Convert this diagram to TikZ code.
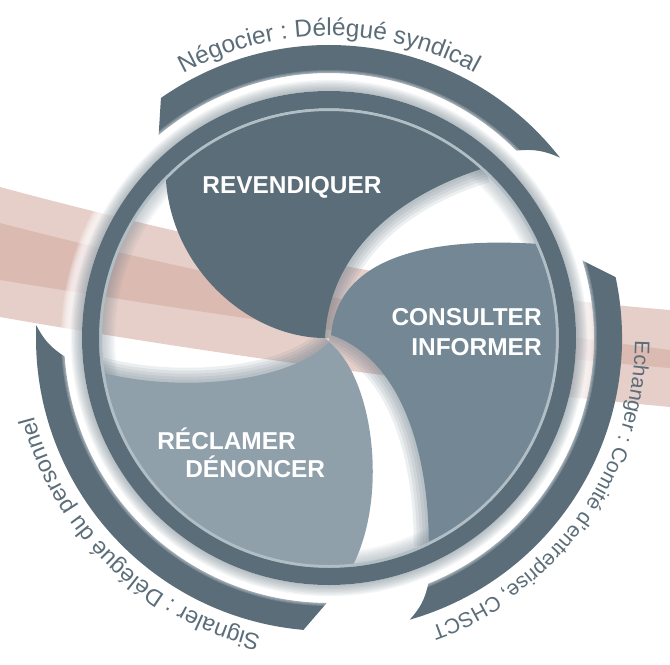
\documentclass[tikz,border=0pt]{standalone}
\usepackage{fontspec}
\newfontfamily\labelfont{Liberation Sans}
\newcommand\ringfont[1]{\labelfont\fontsize{#1}{16}\selectfont}
\usetikzlibrary{decorations.text}
\definecolor{slate}{RGB}{90,109,121}
\definecolor{steel}{RGB}{116,135,148}
\definecolor{mist}{RGB}{143,160,171}
\definecolor{haze}{RGB}{112,129,140}
\definecolor{rose}{RGB}{210,169,159}
\definecolor{rim}{RGB}{178,190,197}

\begin{document}
\begin{tikzpicture}[x=0.02cm, y=0.02cm,
    band/.style={fill=rose, fill opacity=0.56},
    bladelabel/.style={text=white, inner sep=0pt, font=\labelfont\bfseries\fontsize{13.9}{16}\selectfont},
    arclabel/.style={decorate, decoration={text along path, text align=center, text color=slate, text={#1}}}]
  \useasboundingbox (-329,-326) rectangle (341,338);

  % pink ribbons behind everything
  \fill[band] (-329,151) .. controls (-106,91) and (118,46) .. (341,28)
    -- (341,-30) .. controls (118,-12) and (-106,22) .. (-329,58) -- cycle;
  \fill[band] (-329,115) .. controls (-106,57) and (118,16) .. (341,-12)
    -- (341,-69) .. controls (118,-48) and (-106,-18) .. (-329,21) -- cycle;

  % outer arcs
  \fill[slate] (125:293) arc[start angle=125, end angle=38, radius=293]
    to[bend right=15] (45:265) arc[start angle=45, end angle=130, radius=265] -- cycle;
  \fill[slate] (12:293) arc[start angle=12, end angle=-74, radius=293]
    to[bend right=15] (-68:265) arc[start angle=-68, end angle=17, radius=265] -- cycle;
  \fill[slate] (265:293) arc[start angle=265, end angle=177.5, radius=293]
    to[bend right=15] (184:265) arc[start angle=184, end angle=269.5, radius=265] -- cycle;

  % glow round the ring
  \foreach \k in {1,...,7}
    \fill[white, fill opacity=0.16, even odd rule] (0,0) circle[radius=261+\k] circle[radius=247];
  \foreach \k in {1,...,8}
    \fill[haze, fill opacity=0.08, even odd rule] (0,0) circle[radius=247+1.4*\k] circle[radius=247];
  \foreach \k in {1,...,8}
    \fill[haze, fill opacity=0.07, even odd rule] (0,0) circle[radius=230] circle[radius=230-2*\k];

  % blade tips
  \coordinate (tipA) at (-4,0);
  \coordinate (tipB) at (2,3);
  \coordinate (tipC) at (0,-4);

  % soft shadow along the hollow edges
  \begin{scope}
    \clip (0,0) circle[radius=230];
    \foreach \w in {0.6,0.48,0.36,0.24,0.12}
      \draw[haze, draw opacity=0.13, line width=\w cm]
        (tipA) .. controls (0,80) and (60,140) .. (47.5:231)
        (tipB) .. controls (70,-20) and (100,-110) .. (-64.4:231)
        (tipC) .. controls (-40,-45) and (-150,-55) .. (188.5:231);
  \end{scope}

  % blades
  \fill[slate] (tipA) .. controls (0,80) and (60,140) .. (47.5:231)
    arc[start angle=47.5, end angle=135, radius=231]
    .. controls (-160,70) and (-80,0) .. (tipA) -- cycle;
  \fill[steel] (tipB) .. controls (70,-20) and (100,-110) .. (-64.4:231)
    arc[start angle=-64.4, end angle=24, radius=231]
    .. controls (120,100) and (10,90) .. (tipB) -- cycle;
  \fill[mist] (tipC) .. controls (-40,-45) and (-150,-55) .. (188.5:231)
    arc[start angle=188.5, end angle=275.6, radius=231]
    .. controls (60,-160) and (45,-40) .. (tipC) -- cycle;

  % ring
  \draw[rim, line width=0.06cm] (0,0) circle[radius=228.5];
  \fill[slate, even odd rule] (0,0) circle[radius=247] circle[radius=230];

  % blade labels
  \node[bladelabel, anchor=base] (revendiquer) at (-37,145) {REVENDIQUER};
  \node[bladelabel, anchor=base east] (consulter) at (213,13) {CONSULTER};
  \node[bladelabel, anchor=base east] (informer) at (213,-17) {INFORMER};
  \node[bladelabel, anchor=base west] (reclamer) at (-172,-111) {RÉCLAMER};
  \node[bladelabel, anchor=base west] (denoncer) at (-144,-139) {DÉNONCER};

  % labels round the arcs
  \path[arclabel={|\ringfont{13.9}|Négocier : Délégué syndical}]
    (150:302) arc[start angle=150, end angle=30, radius=302];
  \path[arclabel={|\ringfont{12}|Echanger : Comité d’entreprise, CHSCT}]
    (25:306) arc[start angle=25, end angle=-96, radius=306];
  \path[arclabel={|\ringfont{13.2}|Signaler : Délégué du personnel}]
    (286:305) arc[start angle=286, end angle=166, radius=305];
\end{tikzpicture}
\end{document}
